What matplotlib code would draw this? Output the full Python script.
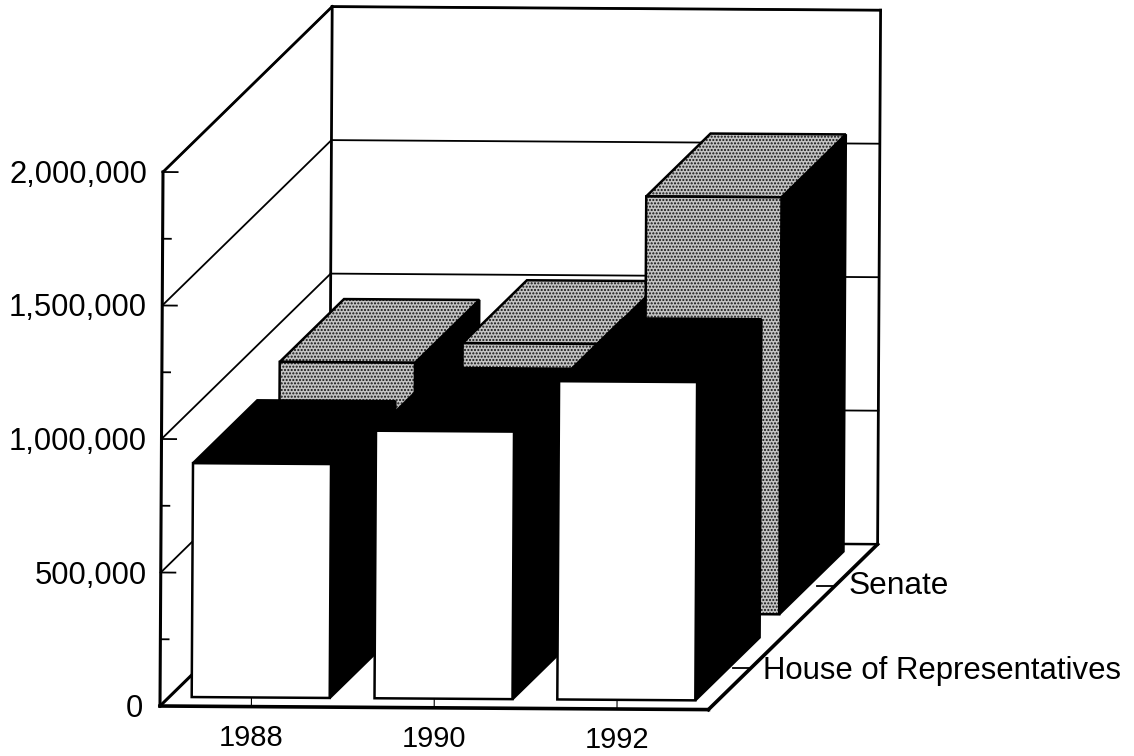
import matplotlib
matplotlib.use('Agg')
import matplotlib.pyplot as plt
from matplotlib.patches import Polygon

plt.rcParams['font.family'] = ['Liberation Sans', 'DejaVu Sans']
plt.rcParams['hatch.linewidth'] = 1.0

years = ['1988', '1990', '1992']
series = ['House of Representatives', 'Senate']
house = [876000, 1002000, 1192000]
senate = [933000, 1008000, 1562000]
value_ticks = [0, 500000, 1000000, 1500000, 2000000]
minor_ticks = [250000, 750000, 1250000, 1750000]
value_max = 2000000

bar_widths = [0.755, 0.74]
bar_centres = [0.5, 0.485]
bar_depth = 0.76
bar_front = [0.11, 1.15]


# oblique projection, x = category, d = series depth, v = value -> pixels
def proj(x, d, v):
    px = 160 + x * 182.8 + d * 84.6 + v / value_max * 3
    py = 706 + x * 1.2 - d * 82.7 - v / value_max * 534
    return px, py


def line3d(ax, a, b, lw=1.5):
    p, q = proj(*a), proj(*b)
    ax.plot([p[0], q[0]], [p[1], q[1]], color='black', lw=lw, solid_capstyle='projecting', zorder=2)


def face(ax, pts, fc, hatch=None):
    xy = [proj(*p) for p in pts]
    if hatch:
        ax.add_patch(Polygon(xy, closed=True, facecolor=fc, edgecolor='#111111', hatch=hatch, lw=0, zorder=3))
        ax.add_patch(Polygon(xy, closed=True, facecolor='none', edgecolor='black', lw=1.8, joinstyle='miter', zorder=3))
    else:
        ax.add_patch(Polygon(xy, closed=True, facecolor=fc, edgecolor='black', lw=1.8, joinstyle='miter', zorder=3))


def bar3d(ax, i, s, v, front, top):
    x0 = i + bar_centres[s] - bar_widths[s] / 2
    x1 = x0 + bar_widths[s]
    d0 = bar_front[s]
    d1 = d0 + bar_depth
    # right side is always black
    face(ax, [(x1, d0, 0), (x1, d1, 0), (x1, d1, v), (x1, d0, v)], 'black')
    if top == 'black':
        face(ax, [(x0, d0, v), (x1, d0, v), (x1, d1, v), (x0, d1, v)], 'black')
    else:
        face(ax, [(x0, d0, v), (x1, d0, v), (x1, d1, v), (x0, d1, v)], '#c4c4c4', hatch=top)
    if front == 'white':
        face(ax, [(x0, d0, 0), (x1, d0, 0), (x1, d0, v), (x0, d0, v)], 'white')
    else:
        face(ax, [(x0, d0, 0), (x1, d0, 0), (x1, d0, v), (x0, d0, v)], '#c4c4c4', hatch=front)


fig = plt.figure(figsize=(11.34, 7.56), dpi=100)
ax = fig.add_axes([0, 0, 1, 1])
ax.set_xlim(0, 1134)
ax.set_ylim(756, 0)
ax.axis('off')

n = len(years)
# walls and floor
for v in value_ticks[1:]:
    line3d(ax, (0, 0, v), (0, 2, v), lw=1.3)
    line3d(ax, (0, 2, v), (n, 2, v), lw=1.3)
line3d(ax, (0, 0, value_max), (0, 2, value_max), lw=2)
line3d(ax, (0, 2, value_max), (n, 2, value_max), lw=2)
line3d(ax, (0, 0, 0), (0, 0, value_max), lw=2.2)
line3d(ax, (0, 2, 0), (0, 2, value_max), lw=2)
line3d(ax, (n, 2, 0), (n, 2, value_max), lw=2)
line3d(ax, (0, 0, 0), (n, 0, 0), lw=2.6)
line3d(ax, (0, 0, 0), (0, 2, 0), lw=2.2)
line3d(ax, (n, 0, 0), (n, 2, 0), lw=2.6)
line3d(ax, (0, 2, 0), (n, 2, 0), lw=1.8)

# ticks on the left wall
for v in value_ticks:
    line3d(ax, (0, 0, v), (0.08, 0, v), lw=1.3)
for v in minor_ticks:
    line3d(ax, (0, 0, v), (0.045, 0, v), lw=1.3)

for i, v in enumerate(senate):
    bar3d(ax, i, 1, v, '.....', '.....')
for i, v in enumerate(house):
    bar3d(ax, i, 0, v, 'white', 'black')

# year ticks along the front
for i in range(n):
    line3d(ax, (i + 0.5, 0, 0), (i + 0.5, 0, 30000), lw=0.8)

# depth ticks on the right edge
for s in range(len(series)):
    p = proj(n, s + 0.5, 0)
    ax.plot([p[0] - 18, p[0]], [p[1], p[1]], color='black', lw=1.3, zorder=2)

for v in value_ticks:
    p = proj(0, 0, v)
    label = f'{v:,}'
    right = 147 if v else 143
    ax.text(right, p[1] + 3, label, ha='right', va='center', fontsize=22.3)

for i, yr in enumerate(years):
    p = proj(i + 0.5, 0, 0)
    ax.text(p[0], p[1] + 31, yr, ha='center', va='center', fontsize=21)

ax.text(763, 671, series[0], ha='left', va='center', fontsize=22.4)
ax.text(849, 586, series[1], ha='left', va='center', fontsize=22.8)

fig.savefig('out.png', dpi=100)
